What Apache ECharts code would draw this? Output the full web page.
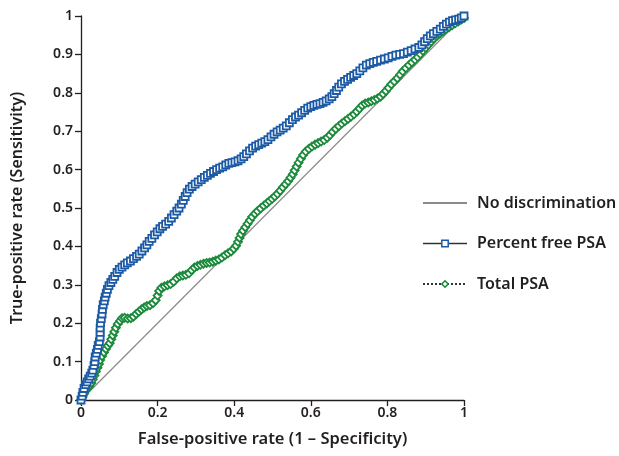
<!DOCTYPE html>
<html>
<head>
<meta charset="utf-8">
<script src="https://cdn.jsdelivr.net/npm/echarts@6/dist/echarts.min.js"></script>
<style>
html,body{margin:0;padding:0;background:#fff;}
#chart{width:619px;height:456px;}
</style>
</head>
<body>
<div id="chart"></div>
<script>
const seriesNames = ['No discrimination', 'Percent free PSA', 'Total PSA'];
const xAxisTitle = 'False-positive rate (1 \u2013 Specificity)';
const yAxisTitle = 'True-positive rate (Sensitivity)';

const noDiscrimination = [[0, 0], [1, 1]];

const percentFreePsa = [
[0,0],[0.003,0.01],[0.005,0.02],[0.008,0.03],[0.012,0.04],[0.016,0.047],[0.02,0.055],[0.024,0.062],[0.028,0.07],[0.031,0.078],
[0.034,0.09],[0.036,0.1],[0.037,0.112],[0.04,0.122],[0.043,0.132],[0.045,0.142],[0.048,0.152],[0.05,0.164],[0.05,0.176],[0.05,0.188],
[0.051,0.2],[0.053,0.212],[0.055,0.224],[0.056,0.236],[0.058,0.248],[0.061,0.258],[0.063,0.268],[0.066,0.278],[0.069,0.288],[0.073,0.298],
[0.078,0.306],[0.083,0.314],[0.088,0.322],[0.094,0.332],[0.1,0.34],[0.107,0.346],[0.114,0.352],[0.121,0.357],[0.129,0.362],[0.137,0.368],
[0.145,0.374],[0.152,0.38],[0.159,0.388],[0.166,0.396],[0.172,0.404],[0.178,0.413],[0.185,0.421],[0.192,0.43],[0.199,0.438],[0.206,0.446],
[0.213,0.452],[0.221,0.458],[0.229,0.465],[0.236,0.474],[0.243,0.483],[0.25,0.492],[0.256,0.5],[0.262,0.51],[0.267,0.52],[0.272,0.53],
[0.277,0.54],[0.283,0.549],[0.29,0.556],[0.298,0.562],[0.306,0.568],[0.314,0.574],[0.322,0.58],[0.33,0.585],[0.338,0.59],[0.346,0.595],
[0.354,0.6],[0.362,0.604],[0.37,0.607],[0.378,0.612],[0.386,0.616],[0.394,0.618],[0.402,0.62],[0.41,0.623],[0.418,0.628],[0.425,0.634],
[0.432,0.641],[0.44,0.649],[0.448,0.656],[0.456,0.661],[0.464,0.665],[0.472,0.669],[0.48,0.673],[0.488,0.678],[0.496,0.685],[0.504,0.692],
[0.512,0.698],[0.52,0.703],[0.528,0.708],[0.536,0.714],[0.544,0.722],[0.552,0.73],[0.56,0.737],[0.568,0.742],[0.576,0.748],[0.584,0.754],
[0.592,0.76],[0.6,0.764],[0.608,0.767],[0.616,0.77],[0.624,0.772],[0.632,0.775],[0.64,0.779],[0.648,0.784],[0.655,0.79],[0.661,0.798],
[0.667,0.806],[0.673,0.815],[0.68,0.823],[0.688,0.83],[0.696,0.835],[0.704,0.84],[0.712,0.845],[0.72,0.85],[0.728,0.857],[0.736,0.865],
[0.745,0.872],[0.754,0.876],[0.763,0.879],[0.772,0.882],[0.782,0.885],[0.792,0.888],[0.802,0.891],[0.812,0.895],[0.822,0.898],[0.832,0.9],
[0.842,0.902],[0.852,0.906],[0.862,0.91],[0.872,0.914],[0.882,0.918],[0.89,0.925],[0.897,0.933],[0.904,0.941],[0.912,0.948],[0.92,0.954],
[0.929,0.96],[0.938,0.966],[0.946,0.973],[0.954,0.979],[0.962,0.984],[0.97,0.988],[0.978,0.99],[0.986,0.992],[0.993,0.995],[1,1]
];

const totalPsa = [
[0,0],[0.004,0.008],[0.008,0.016],[0.012,0.024],[0.017,0.03],[0.022,0.036],[0.027,0.044],[0.031,0.054],[0.035,0.064],[0.039,0.074],
[0.043,0.084],[0.047,0.094],[0.05,0.104],[0.055,0.114],[0.06,0.124],[0.065,0.133],[0.07,0.141],[0.075,0.148],[0.079,0.158],[0.083,0.168],
[0.087,0.178],[0.091,0.188],[0.096,0.198],[0.102,0.206],[0.107,0.213],[0.114,0.214],[0.122,0.212],[0.13,0.213],[0.137,0.217],[0.144,0.224],
[0.151,0.23],[0.158,0.236],[0.165,0.241],[0.172,0.245],[0.18,0.247],[0.188,0.252],[0.195,0.26],[0.2,0.272],[0.204,0.284],[0.21,0.292],
[0.218,0.296],[0.226,0.299],[0.234,0.302],[0.242,0.308],[0.25,0.317],[0.258,0.322],[0.266,0.324],[0.274,0.326],[0.282,0.33],[0.289,0.338],
[0.296,0.345],[0.304,0.349],[0.312,0.352],[0.32,0.355],[0.328,0.357],[0.336,0.358],[0.344,0.36],[0.352,0.363],[0.36,0.366],[0.368,0.371],
[0.376,0.377],[0.384,0.382],[0.392,0.387],[0.399,0.394],[0.405,0.402],[0.41,0.412],[0.414,0.422],[0.418,0.432],[0.423,0.441],[0.429,0.45],
[0.435,0.459],[0.441,0.468],[0.447,0.477],[0.454,0.485],[0.461,0.492],[0.469,0.499],[0.477,0.506],[0.485,0.512],[0.492,0.518],[0.499,0.524],
[0.506,0.53],[0.513,0.537],[0.52,0.545],[0.527,0.554],[0.534,0.562],[0.541,0.57],[0.547,0.579],[0.553,0.588],[0.558,0.598],[0.563,0.608],
[0.568,0.618],[0.574,0.628],[0.58,0.638],[0.587,0.647],[0.595,0.654],[0.603,0.66],[0.611,0.665],[0.619,0.669],[0.627,0.673],[0.635,0.677],
[0.643,0.683],[0.65,0.69],[0.657,0.698],[0.665,0.706],[0.673,0.713],[0.681,0.72],[0.689,0.726],[0.697,0.732],[0.705,0.738],[0.713,0.744],
[0.72,0.751],[0.727,0.759],[0.734,0.767],[0.742,0.772],[0.75,0.775],[0.758,0.778],[0.766,0.781],[0.774,0.785],[0.782,0.79],[0.789,0.797],
[0.796,0.805],[0.803,0.813],[0.81,0.822],[0.818,0.83],[0.826,0.838],[0.833,0.847],[0.84,0.856],[0.848,0.864],[0.856,0.872],[0.864,0.879],
[0.872,0.886],[0.879,0.893],[0.886,0.901],[0.893,0.909],[0.9,0.917],[0.907,0.925],[0.914,0.933],[0.921,0.941],[0.929,0.948],[0.937,0.954],
[0.945,0.96],[0.953,0.966],[0.961,0.971],[0.969,0.976],[0.977,0.981],[0.985,0.986],[0.992,0.99],[1,0.995]
];

const FONT = '"Noto Sans", "Open Sans", sans-serif';
const BLUE = '#1c5aa5';
const GREEN = '#1b8a3b';
const TEXT = '#231f20';

const chart = echarts.init(document.getElementById('chart'), null, {renderer: 'canvas'});
chart.setOption({
  animation: false,
  backgroundColor: '#ffffff',
  grid: {left: 81, right: 155, top: 16, bottom: 56, containLabel: false},
  legend: {
    orient: 'vertical',
    left: 417,
    top: 190,
    padding: 5,
    itemWidth: 44,
    itemHeight: 8,
    itemGap: 24.5,
    textStyle: {fontFamily: FONT, fontSize: 16, fontWeight: 600, color: TEXT, padding: [0, 0, 0, 5]},
    data: [
      {name: seriesNames[0], itemStyle: {color: 'rgba(0,0,0,0)', borderColor: 'rgba(0,0,0,0)', borderWidth: 0, opacity: 0}},
      {name: seriesNames[1], lineStyle: {color: '#333333', width: 1.5, type: 'solid'}, itemStyle: {borderWidth: 1.5}},
      {name: seriesNames[2], lineStyle: {color: '#333333', width: 2, type: 'dotted'}, itemStyle: {borderWidth: 1.6}}
    ]
  },
  xAxis: {
    type: 'value', min: 0, max: 1, interval: 0.2,
    name: xAxisTitle, nameLocation: 'middle', nameGap: 31,
    nameTextStyle: {fontFamily: FONT, fontSize: 16.5, fontWeight: 600, color: TEXT},
    axisLine: {show: true, onZero: false, lineStyle: {color: '#231f20', width: 1.3}},
    axisTick: {show: true, length: 6, lineStyle: {color: '#231f20', width: 1.3}},
    axisLabel: {fontFamily: FONT, fontSize: 14, fontWeight: 600, color: TEXT, margin: 6},
    splitLine: {show: false}
  },
  yAxis: {
    type: 'value', min: 0, max: 1, interval: 0.1,
    name: yAxisTitle, nameLocation: 'middle', nameGap: 56,
    nameTextStyle: {fontFamily: FONT, fontSize: 16, fontWeight: 600, color: TEXT},
    axisLine: {show: true, onZero: false, lineStyle: {color: '#231f20', width: 1.3}},
    axisTick: {show: true, length: 6, lineStyle: {color: '#231f20', width: 1.3}},
    axisLabel: {fontFamily: FONT, fontSize: 14, fontWeight: 600, color: TEXT, margin: 8},
    splitLine: {show: false}
  },
  series: [
    {
      name: seriesNames[0], type: 'line', data: noDiscrimination,
      symbol: 'none', showSymbol: false,
      lineStyle: {color: '#8a8a8a', width: 1.2},
      itemStyle: {color: '#8a8a8a'},
      z: 1
    },
    {
      name: seriesNames[1], type: 'line', data: percentFreePsa,
      symbol: 'rect', symbolSize: 7, showAllSymbol: true,
      lineStyle: {color: BLUE, width: 1},
      itemStyle: {color: '#ffffff', borderColor: BLUE, borderWidth: 1.8},
      z: 3
    },
    {
      name: seriesNames[2], type: 'line', data: totalPsa,
      symbol: 'diamond', symbolSize: 8, showAllSymbol: true,
      lineStyle: {color: GREEN, width: 1},
      itemStyle: {color: '#ffffff', borderColor: GREEN, borderWidth: 1.8},
      z: 2
    }
  ]
});
</script>
</body>
</html>
